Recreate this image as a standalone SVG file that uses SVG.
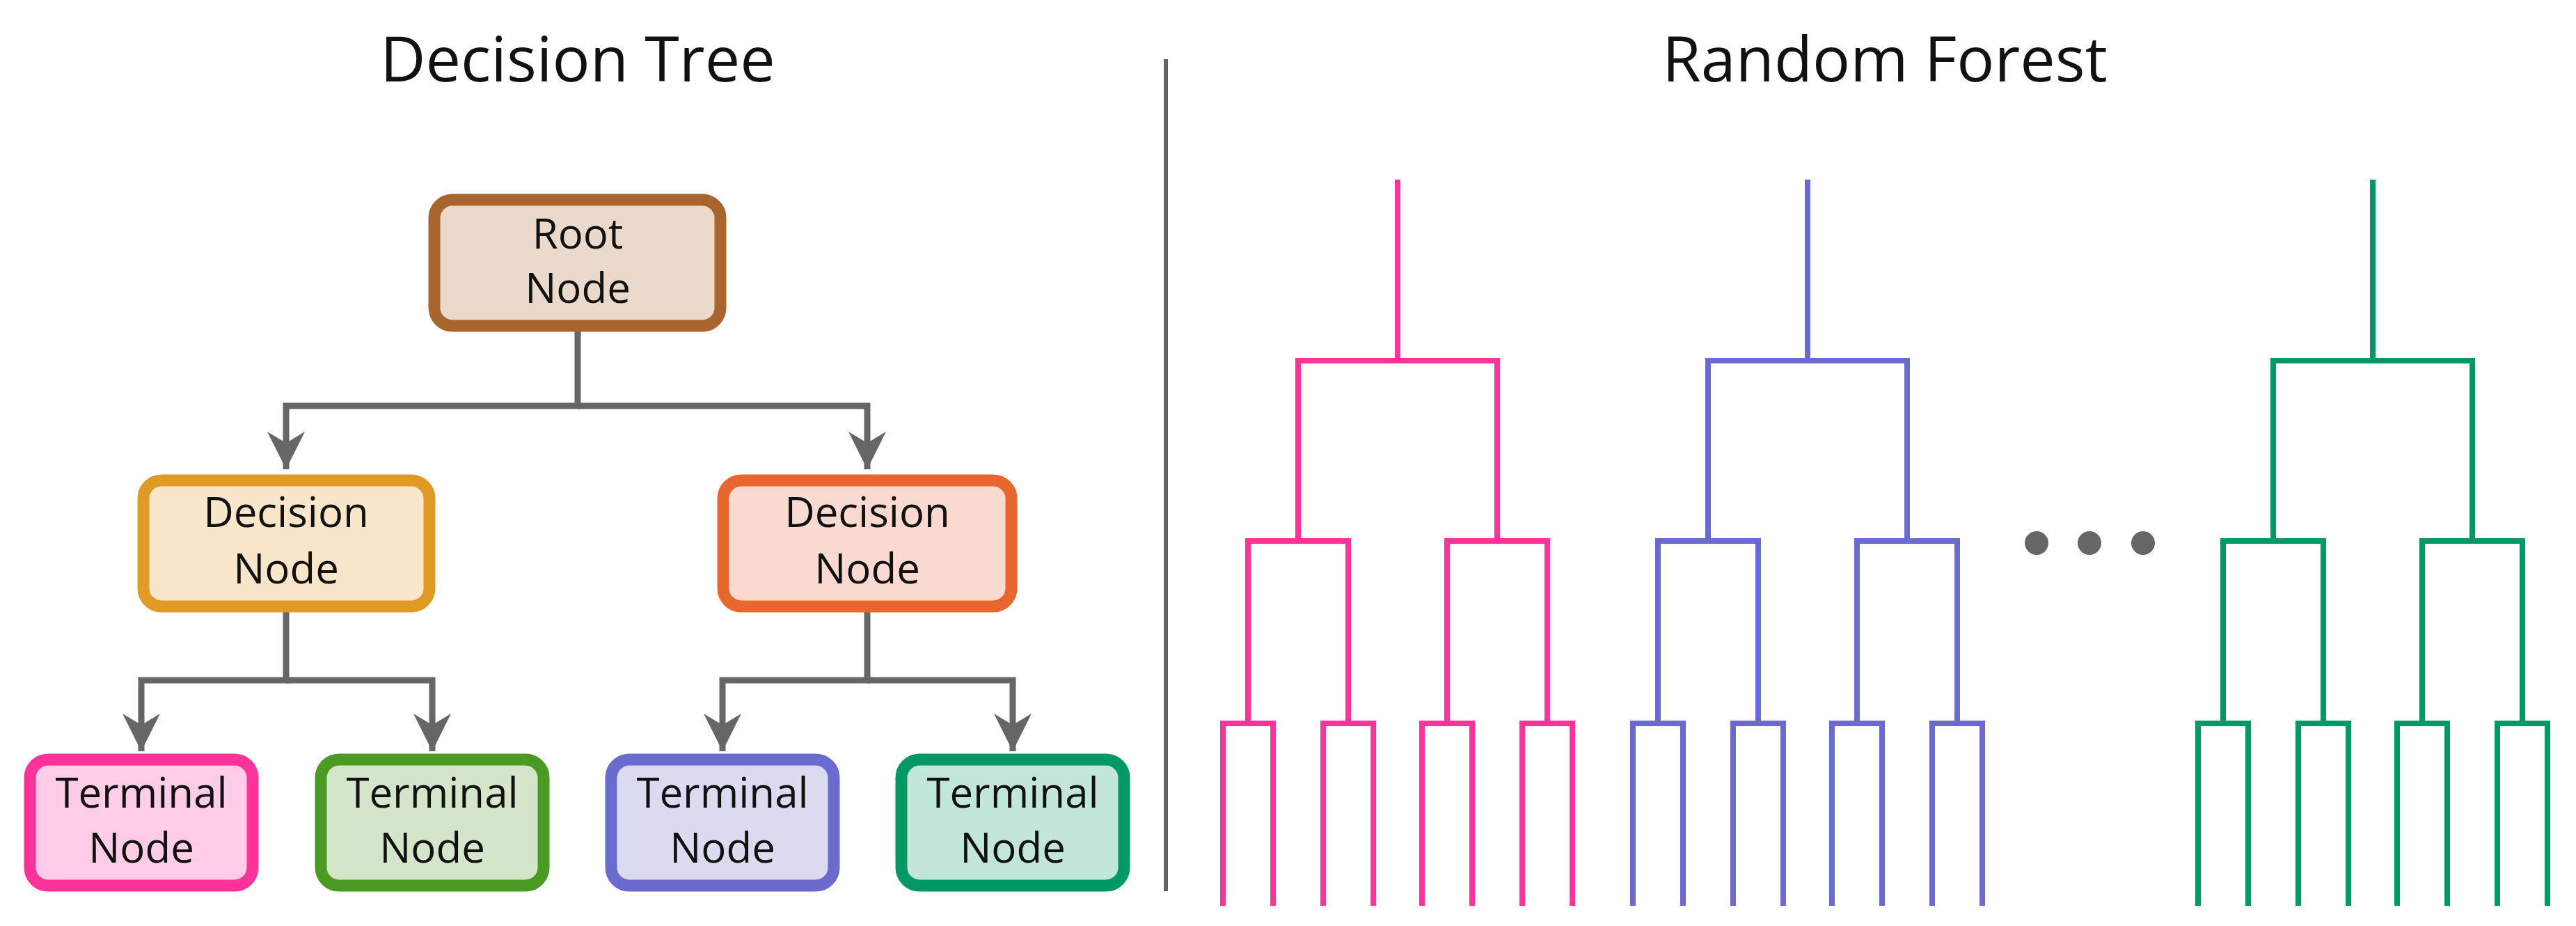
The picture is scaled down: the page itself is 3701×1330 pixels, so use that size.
<svg xmlns="http://www.w3.org/2000/svg" width="3701" height="1330" viewBox="0 0 3701 1330">
<style>
text{font-family:"Open Sans","Liberation Sans",sans-serif;text-anchor:middle;fill:#111}
.t{font-size:90px}
.n{font-size:60px}
.c{fill:none;stroke:#666;stroke-width:9}
.box{stroke-width:17}
.tr{fill:none;stroke-width:8}
</style>
<defs>
<marker id="ah" viewBox="0 0 10 10" refX="10" refY="5" markerWidth="6" markerHeight="6" markerUnits="strokeWidth" orient="auto">
<path d="M0,0 L10,5 L0,10 L3,5 z" fill="#666"/>
</marker>
</defs>
<rect width="3701" height="1330" fill="#fff"/>
<text class="t" x="830" y="117">Decision Tree</text>
<text class="t" x="2708" y="117">Random Forest</text>
<line x1="1675" y1="85" x2="1675" y2="1280" stroke="#666" stroke-width="6"/>
<g id="connectors">
<path class="c" d="M830,476 V583 H411 V674" marker-end="url(#ah)"/>
<path class="c" d="M830,583 H1246 V674" marker-end="url(#ah)"/>
<path class="c" d="M411,879 V977 H203 V1079" marker-end="url(#ah)"/>
<path class="c" d="M411,977 H621 V1079" marker-end="url(#ah)"/>
<path class="c" d="M1246,879 V977 H1038 V1079" marker-end="url(#ah)"/>
<path class="c" d="M1246,977 H1455 V1079" marker-end="url(#ah)"/>
</g>
<g id="root"><rect class="box" x="624" y="287" width="411" height="181" rx="26" fill="#EBD9CB" stroke="#A8662E"/><text class="n" x="830" y="357">Root</text><text class="n" x="830" y="435">Node</text></g>
<g id="dec1"><rect class="box" x="206" y="690" width="411" height="181" rx="26" fill="#F8E5CA" stroke="#E09B26"/><text class="n" x="411" y="757">Decision</text><text class="n" x="411" y="838">Node</text></g>
<g id="dec2"><rect class="box" x="1039" y="690" width="414" height="181" rx="26" fill="#FADAD0" stroke="#E8672E"/><text class="n" x="1246" y="757">Decision</text><text class="n" x="1246" y="838">Node</text></g>
<g id="term1"><rect class="box" x="43" y="1091" width="320" height="181" rx="26" fill="#FFCCE6" stroke="#FF3399"/><text class="n" x="203" y="1160">Terminal</text><text class="n" x="203" y="1239">Node</text></g>
<g id="term2"><rect class="box" x="461" y="1091" width="320" height="181" rx="26" fill="#D5E5CA" stroke="#4A9A24"/><text class="n" x="621" y="1160">Terminal</text><text class="n" x="621" y="1239">Node</text></g>
<g id="term3"><rect class="box" x="878" y="1091" width="320" height="181" rx="26" fill="#DADAF0" stroke="#6A6ACF"/><text class="n" x="1038" y="1160">Terminal</text><text class="n" x="1038" y="1239">Node</text></g>
<g id="term4"><rect class="box" x="1295" y="1091" width="320" height="181" rx="26" fill="#C2E6D8" stroke="#009966"/><text class="n" x="1455" y="1160">Terminal</text><text class="n" x="1455" y="1239">Node</text></g>
<defs>
<g id="tree">
<path d="M0,258 V518 M-143,777 V518 H143 V777 M-215,1039 V777 H-71 V1039 M71,1039 V777 H215 V1039 M-251,1301 V1039 H-179 V1301 M-107,1301 V1039 H-35 V1301 M35,1301 V1039 H107 V1301 M179,1301 V1039 H251 V1301"/>
</g>
</defs>
<g id="tree-pink" class="tr" stroke="#FF3399"><use href="#tree" x="2008"/></g>
<g id="tree-blue" class="tr" stroke="#6A6ACF"><use href="#tree" x="2597"/></g>
<g id="tree-green" class="tr" stroke="#009966"><use href="#tree" x="3409"/></g>
<g id="dots" fill="#666"><ellipse cx="2926" cy="780" rx="17" ry="17"/><ellipse cx="3002" cy="780" rx="17" ry="17"/><ellipse cx="3079" cy="780" rx="17" ry="17"/></g>
</svg>
